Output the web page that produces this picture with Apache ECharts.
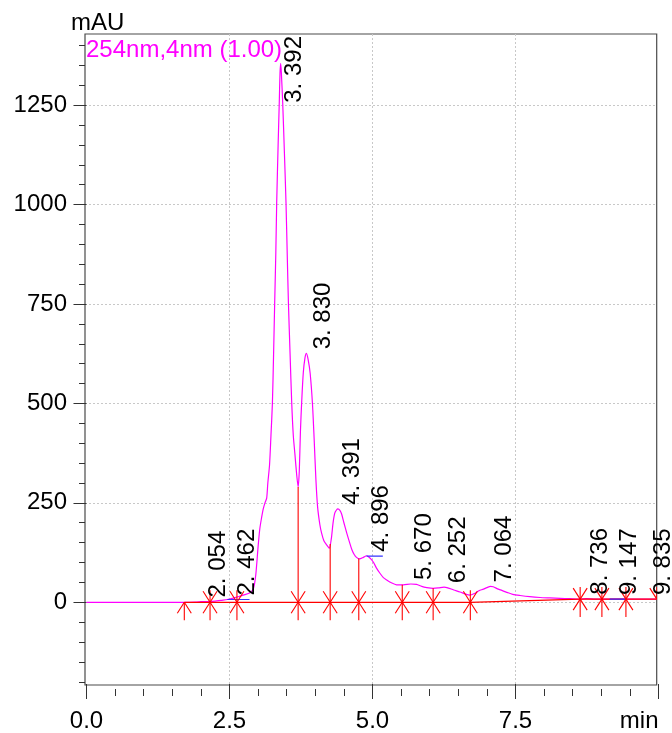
<!DOCTYPE html>
<html><head><meta charset="utf-8">
<script src="https://cdn.jsdelivr.net/npm/echarts@6/dist/echarts.min.js"></script>
<style>html,body{margin:0;padding:0;background:#fff}#c{width:672px;height:733px}</style>
</head><body><div id="c"></div>
<script>
// ---- data ----
const signalTimes = [0.0,1.0,1.70,1.90,2.00,2.054,2.15,2.25,2.35,2.462,2.55,2.65,2.74,2.86,2.92,2.96,3.00,3.03,3.06,3.09,3.12,3.15,3.17,3.20,3.225,3.25,3.27,3.29,3.31,3.325,3.35,3.37,3.383,3.395,3.407,3.43,3.46,3.488,3.51,3.53,3.56,3.587,3.615,3.645,3.675,3.70,3.72,3.74,3.762,3.79,3.82,3.845,3.875,3.91,3.95,3.98,4.01,4.04,4.08,4.11,4.15,4.20,4.245,4.28,4.31,4.34,4.37,4.395,4.43,4.46,4.50,4.55,4.60,4.64,4.68,4.72,4.77,4.84,4.896,4.95,5.01,5.07,5.13,5.19,5.25,5.33,5.42,5.54,5.67,5.77,5.86,5.95,6.06,6.15,6.252,6.30,6.42,6.53,6.62,6.70,6.78,6.86,6.94,7.00,7.064,7.11,7.20,7.35,7.45,7.58,7.75,7.93,8.10,8.28,8.45,8.63,8.736,8.90,9.147,9.40,9.60,9.835,9.968];
const signalValues = [0,0,0,0.5,1.5,2,2,3,5,7,10,14,18,24,35,70,140,185,212,235,250,262,300,345,420,500,620,753,880,1004,1150,1256,1330,1355,1330,1256,1130,1004,870,753,620,504,420,370,320,290,330,430,504,577,615,626,610,576,500,410,310,240,195,174,155,144,136,160,199,224,232,235,231,222,200,174,150,132,120,113,109,113,117,112,102,86,73,62,56,49,44,44,46,45,40,37,35,36,38,37,31,26,21,18,22,29,33,37,40,39,33,25,20,17,14,12,11,10,9,8,9,8,8,8,8,8,8];

const peakTimes   = [2.054, 2.462, 3.392, 3.830, 4.391, 4.896, 5.670, 6.252, 7.064, 8.736, 9.147, 9.835];
const peakHeights = [2, 7, 1355, 626, 235, 117, 46, 38, 40, 9, 8, 8];
const peakLabels  = ['2. 054','2. 462','3. 392','3. 830','4. 391','4. 896','5. 670','6. 252','7. 064','8. 736','9. 147','9. 835'];

const markerTimes    = [1.71, 2.16, 2.63, 3.70, 4.26, 4.76, 5.52, 6.06, 6.71, 8.63, 9.01, 9.43, 9.97];
const markerBaseline = [0, 0, 0, 0, 0, 0, 0, 0, 0, 8, 8, 8, 8];
const markerKinds    = ['start','mid','mid','mid','mid','mid','mid','mid','mid','mid','mid','mid','end'];

const skimStarts = [2.462, 4.896, 9.147];
const skimEnds   = [2.85, 5.18, 9.44];
const skimValues = [7, 116, 8];

const yTickValues = [0, 250, 500, 750, 1000, 1250];
const yMinorTicks = [-200,-150,-100,-50,0,50,100,150,200,250,300,350,400,450,500,550,600,650,700,750,800,850,900,950,1000,1050,1100,1150,1200,1250,1300,1350,1400];
const xTickValues = [0, 2.5, 5, 7.5, 10];
const xTickLabels = ['0.0', '2.5', '5.0', '7.5', 'min'];
const xMinorTicks = [0.5,1,1.5,2,3,3.5,4,4.5,5.5,6,6.5,7,8,8.5,9,9.5];

const yUnit = 'mAU';
const channelText = '254nm,4nm (1.00)';

// ---- helpers ----
function signalAt(t) {
  for (let i = 1; i < signalTimes.length; i++) {
    if (t <= signalTimes[i]) {
      const t0 = signalTimes[i-1], t1 = signalTimes[i];
      const f = (t - t0) / (t1 - t0);
      return signalValues[i-1] + f * (signalValues[i] - signalValues[i-1]);
    }
  }
  return signalValues[signalValues.length-1];
}
const FONT = '"Liberation Sans", Arial, sans-serif';
const mctx = document.createElement('canvas').getContext('2d');
mctx.font = '24px ' + FONT;

const chart = echarts.init(document.getElementById('c'), null, {renderer: 'canvas'});
const kindCode = {start: 0, mid: 1, end: 2};

const option = {
  animation: false,
  backgroundColor: '#ffffff',
  title: [
    {text: yUnit, left: 71, top: 11, padding: 0, textStyle: {fontFamily: FONT, fontSize: 24, fontWeight: 'normal', color: '#000'}},
    {text: channelText, left: 86, top: 38, padding: 0, textStyle: {fontFamily: FONT, fontSize: 24, fontWeight: 'normal', color: '#FF00FF'}, z: 10}
  ],
  grid: [
    {left: 85, right: 15.3, top: 34, bottom: 48, show: true, borderColor: '#4a4a4a', borderWidth: 1.2, backgroundColor: 'transparent'},
    {left: 86.5, right: 13.5, top: 34, bottom: 48, show: false}
  ],
  xAxis: [
    {type: 'value', gridIndex: 0, min: -0.026, max: 9.968,
     axisLine: {show: false}, axisLabel: {show: false},
     axisTick: {show: false, customValues: [2.5, 5, 7.5]},
     splitLine: {show: true, lineStyle: {color: '#c8c8c8', type: [2, 2], width: 1}}},
    {type: 'value', gridIndex: 1, min: 0, max: 10, position: 'bottom', offset: 3,
     axisLine: {show: false}, splitLine: {show: false},
     axisTick: {show: true, customValues: xTickValues, length: 15, lineStyle: {color: '#333', width: 1}},
     axisLabel: {show: true, customValues: xTickValues, margin: 22, alignMaxLabel: 'right',
       fontFamily: FONT, fontSize: 24, color: '#000',
       formatter: v => xTickLabels[xTickValues.indexOf(v)]}},
    {type: 'value', gridIndex: 1, min: 0, max: 10, position: 'bottom', offset: 5,
     axisLine: {show: false}, splitLine: {show: false}, axisLabel: {show: false},
     axisTick: {show: true, customValues: xMinorTicks, length: 7, lineStyle: {color: '#333', width: 1}}}
  ],
  yAxis: [
    {type: 'value', gridIndex: 0, min: -208, max: 1429,
     axisLine: {show: false},
     axisTick: {show: true, customValues: yTickValues, length: 13, lineStyle: {color: '#333', width: 1}},
     axisLabel: {show: true, customValues: yTickValues, margin: 18, fontFamily: FONT, fontSize: 24, color: '#000',
       formatter: v => String(v)},
     splitLine: {show: true, lineStyle: {color: '#c8c8c8', type: [2, 2], width: 1}}},
    {type: 'value', gridIndex: 0, min: -208, max: 1429, position: 'left',
     axisLine: {show: false}, axisLabel: {show: false}, splitLine: {show: false},
     axisTick: {show: true, customValues: yMinorTicks, length: 6, lineStyle: {color: '#333', width: 1}}},
    {type: 'value', gridIndex: 1, min: 0, max: 1, show: false}
  ],
  series: [
    {type: 'line', xAxisIndex: 0, yAxisIndex: 0, data: signalTimes.map((t, i) => [t, signalValues[i]]),
     showSymbol: false, symbol: 'none', smooth: 0.25, clip: true,
     lineStyle: {color: '#FF00FF', width: 1.2}, z: 2},
    {type: 'line', xAxisIndex: 0, yAxisIndex: 0, data: markerTimes.map((t, i) => [t, markerBaseline[i]]),
     showSymbol: false, symbol: 'none', clip: true,
     lineStyle: {color: '#FF0000', width: 1.2}, z: 3},
    ...skimStarts.map((s, i) => ({type: 'line', xAxisIndex: 0, yAxisIndex: 0,
     data: [[s, skimValues[i]], [skimEnds[i], skimValues[i]]], showSymbol: false, symbol: 'none', clip: true,
     lineStyle: {color: '#3333FF', width: 1.2}, z: 4})),
    {type: 'custom', xAxisIndex: 0, yAxisIndex: 0, clip: true, z: 5,
     data: markerTimes.map((t, i) => [t, markerBaseline[i], kindCode[markerKinds[i]], signalAt(t)]),
     renderItem: function (params, api) {
       const p = api.coord([api.value(0), api.value(1)]);
       const s = api.coord([api.value(0), api.value(3)]);
       const k = api.value(2);
       const x = p[0], y = p[1];
       const st = {stroke: '#FF0000', lineWidth: 1.1};
       const kids = [];
       const L = (x1, y1, x2, y2) => kids.push({type: 'line', shape: {x1, y1, x2, y2}, style: st});
       if (k === 1) {
         L(x, Math.min(s[1], y - 12), x, y + 18);
         L(x - 7, y - 11, x + 7, y + 11);
         L(x + 7, y - 11, x - 7, y + 11);
       } else if (k === 0) {
         L(x, Math.min(s[1], y), x, y + 18);
         L(x, y, x - 7, y + 11);
         L(x, y, x + 7, y + 11);
       } else {
         L(x, y - 12, x, y);
         L(x - 7, y - 11, x, y);
         L(x + 7, y - 11, x, y);
       }
       return {type: 'group', children: kids};
     }},
    {type: 'custom', xAxisIndex: 0, yAxisIndex: 0, clip: false, z: 6,
     data: peakTimes.map((t, i) => [t, peakHeights[i], i]),
     renderItem: function (params, api) {
       const idx = api.value(2);
       // label columns are pushed right if they would crowd the previous one
       const COL = 20, GAP = 9;
       let x = -1e9;
       for (let j = 0; j <= idx; j++) {
         const nat = api.coord([peakTimes[j], 0])[0] + 2;
         x = Math.max(nat, x + COL + GAP);
       }
       const p = api.coord([api.value(0), api.value(1)]);
       const top = api.coord([0, 1429])[1];
       const txt = peakLabels[idx];
       const w = mctx.measureText(txt).width;
       let yb = p[1] - 4;
       if (yb - w < top) yb = top + w + 2;
       return {type: 'text', x: x, y: yb, rotation: Math.PI / 2,
         style: {text: txt, font: '24px ' + FONT, fill: '#000', align: 'left', verticalAlign: 'top'}};
     }}
  ]
};
chart.setOption(option);
</script>
</body></html>
